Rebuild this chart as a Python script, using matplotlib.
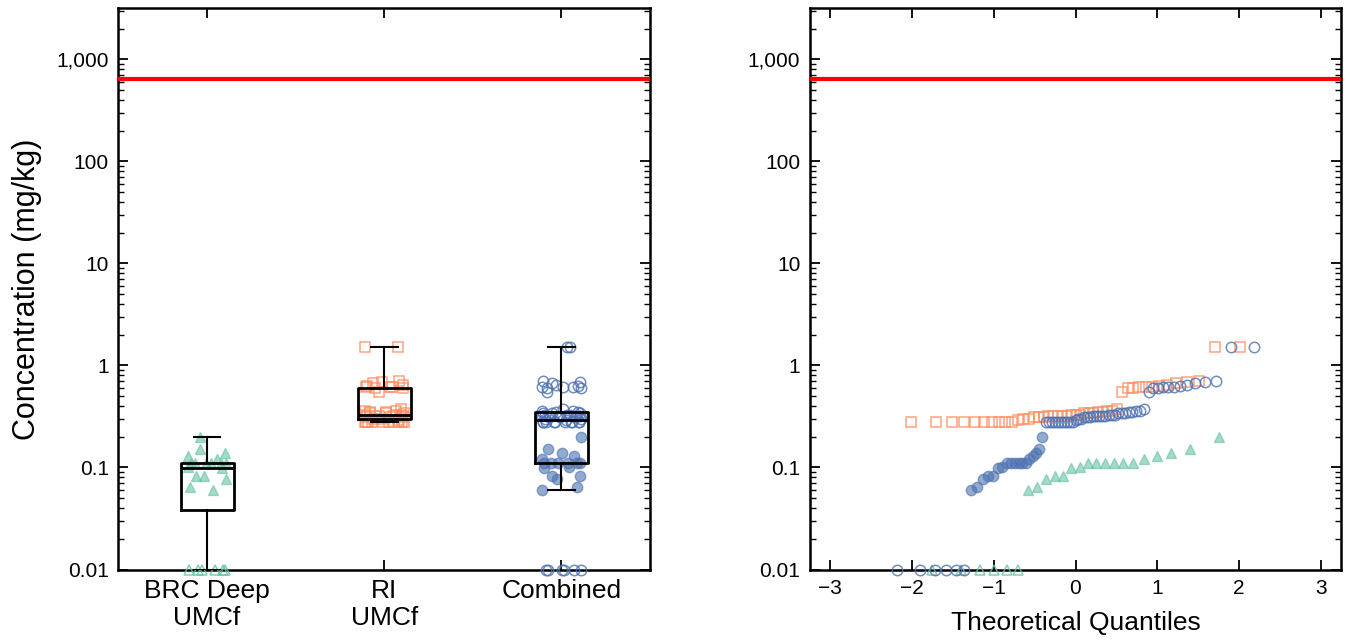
import numpy as np
import matplotlib
matplotlib.use('Agg')
import matplotlib.pyplot as plt
from matplotlib import cbook
from matplotlib.ticker import LogLocator, FixedLocator, FixedFormatter, NullFormatter
from statistics import NormalDist

plt.rcParams['font.family'] = ['Liberation Sans', 'DejaVu Sans']

# ---------------- data ----------------
categories = ['BRC Deep\nUMCf', 'RI\nUMCf', 'Combined']

brc_values = [0.01, 0.01, 0.01, 0.01, 0.01, 0.01,
              0.06, 0.064, 0.077, 0.082, 0.083, 0.099, 0.10, 0.11, 0.11,
              0.11, 0.11, 0.11, 0.11, 0.12, 0.13, 0.14, 0.15, 0.20]
brc_detected = [False] * 6 + [True] * 18

ri_values = [0.28, 0.28, 0.28, 0.28, 0.28, 0.28, 0.28, 0.28, 0.28, 0.28,
             0.29, 0.30, 0.30, 0.31, 0.31, 0.31, 0.32, 0.32, 0.32, 0.32,
             0.32, 0.33, 0.33, 0.33, 0.34, 0.34, 0.34, 0.35, 0.35, 0.36,
             0.36, 0.37,
             0.55, 0.60, 0.60, 0.61, 0.62, 0.62, 0.63, 0.65, 0.67, 0.69, 0.70,
             1.5, 1.5]
ri_detected = [False] * 45

combined_values = brc_values + ri_values
combined_detected = brc_detected + ri_detected

screening_level = 640

y_ticks = [0.01, 0.1, 1, 10, 100, 1000]
y_tick_labels = ['0.01', '0.1', '1', '10', '100', '1,000']
qq_ticks = [-3, -2, -1, 0, 1, 2, 3]

groups = [brc_values, ri_values, combined_values]
detected = [brc_detected, ri_detected, combined_detected]
markers = ['^', 's', 'o']
colors = ['#66c2a5', '#fc8d62', '#4c72b0']
msizes = [7.5, 7, 7.5]

# ---------------- figure ----------------
W, H = 1351, 641
fig = plt.figure(figsize=(W / 100, H / 100), dpi=100)
bot = 1 - 569.5 / H
hgt = (569.5 - 8.3) / H
ax1 = fig.add_axes([118.5 / W, bot, (650 - 118.5) / W, hgt])
ax2 = fig.add_axes([810 / W, bot, (1341 - 810) / W, hgt])

for ax in (ax1, ax2):
    ax.set_yscale('log')
    ax.set_ylim(0.01, 10 ** 3.5)
    ax.yaxis.set_major_locator(FixedLocator(y_ticks))
    ax.yaxis.set_major_formatter(FixedFormatter(y_tick_labels))
    ax.yaxis.set_minor_locator(LogLocator(base=10, subs=np.arange(2, 10)))
    ax.yaxis.set_minor_formatter(NullFormatter())
    ax.tick_params(which='both', direction='in', top=True, right=True)
    ax.tick_params(which='major', length=7.5, width=1.3, labelsize=15, pad=7)
    ax.tick_params(which='minor', length=4, width=1.0)
    for sp in ax.spines.values():
        sp.set_linewidth(1.8)
    ax.axhline(screening_level, color='red', lw=3, zorder=6)

# ---------------- left: box + strip ----------------
positions = [1, 2, 3]
jit_w = 0.11
for p, vals, det, mk, col, ms in zip(positions, groups, detected, markers, colors, msizes):
    vals = np.asarray(vals)
    det = np.asarray(det)
    k = np.arange(len(vals))
    offs = jit_w * np.sin(k * 2.39996 + p)
    x = p + offs
    ax1.plot(x[det], vals[det], ls='none', marker=mk, ms=ms, mfc=col, mec=col,
             alpha=0.6, clip_on=False, zorder=3)
    ax1.plot(x[~det], vals[~det], ls='none', marker=mk, ms=ms, mfc='none', mec=col,
             mew=1.1, alpha=0.8, clip_on=False, zorder=3)

stats = []
for vals in groups:
    s = cbook.boxplot_stats(np.log10(vals), whis=1.5)[0]
    for key in ('med', 'q1', 'q3', 'whislo', 'whishi', 'mean', 'cilo', 'cihi'):
        s[key] = 10 ** s[key]
    s['fliers'] = np.array([])
    stats.append(s)

ax1.bxp(stats, positions=positions, widths=0.3, showfliers=False,
        boxprops=dict(color='black', lw=2),
        medianprops=dict(color='black', lw=2),
        whiskerprops=dict(color='black', lw=1.5),
        capprops=dict(color='black', lw=1.5),
        zorder=5)

ax1.set_xlim(0.5, 3.5)
ax1.set_xticks(positions)
ax1.set_xticklabels(categories, fontsize=19, linespacing=1.15)
ax1.tick_params(axis='x', which='major', pad=7)
ax1.set_ylabel('Concentration (mg/kg)', fontsize=22, labelpad=10)

# ---------------- right: QQ plot ----------------
nd = NormalDist()
for vals, det, mk, col, ms in zip([ri_values, brc_values, combined_values],
                                  [ri_detected, brc_detected, combined_detected],
                                  ['s', '^', 'o'],
                                  [colors[1], colors[0], colors[2]],
                                  [msizes[1], msizes[0], msizes[2]]):
    vals = np.asarray(vals)
    det = np.asarray(det)
    order = np.argsort(vals, kind='stable')
    sv = vals[order]
    sd = det[order]
    n = len(sv)
    q = np.array([nd.inv_cdf(i / (n + 1)) for i in range(1, n + 1)])
    ax2.plot(q[sd], sv[sd], ls='none', marker=mk, ms=ms, mfc=col, mec=col,
             alpha=0.6, clip_on=False, zorder=3)
    ax2.plot(q[~sd], sv[~sd], ls='none', marker=mk, ms=ms, mfc='none', mec=col,
             mew=1.1, alpha=0.8, clip_on=False, zorder=3)

ax2.set_xlim(-3.25, 3.25)
ax2.set_xticks(qq_ticks)
ax2.set_xlabel('Theoretical Quantiles', fontsize=19, labelpad=9)

fig.savefig('out.png', dpi=100)
